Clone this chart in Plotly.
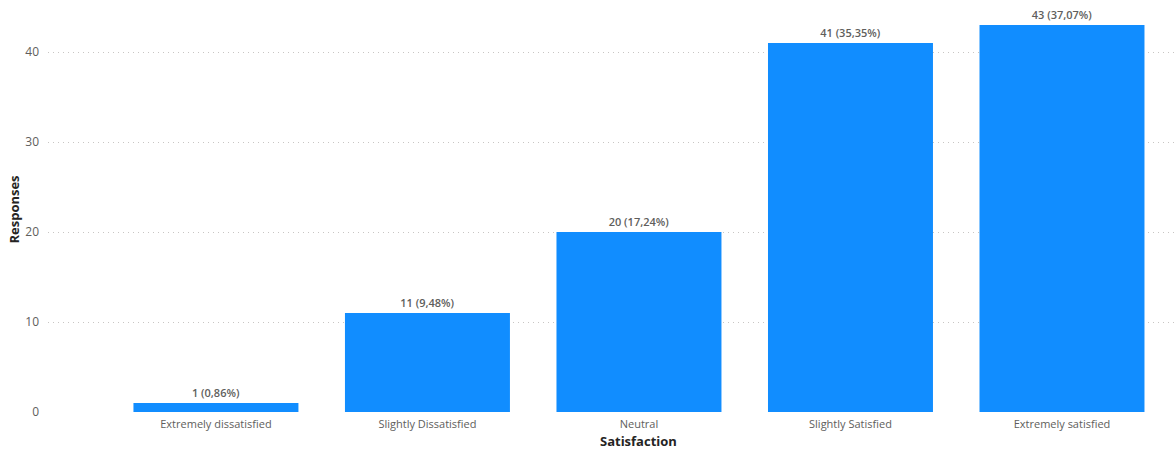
import plotly.graph_objects as go

categories = ["Extremely dissatisfied", "Slightly Dissatisfied", "Neutral",
              "Slightly Satisfied", "Extremely satisfied"]
responses = [1, 11, 20, 41, 43]
percent_labels = ["0,86%", "9,48%", "17,24%", "35,35%", "37,07%"]
y_ticks = [0, 10, 20, 30, 40]

labels = [f"{v} ({p})" for v, p in zip(responses, percent_labels)]
positions = list(range(len(categories)))

fig = go.Figure(
    go.Bar(
        x=positions,
        y=responses,
        text=labels,
        textposition="outside",
        cliponaxis=False,
        textfont=dict(family="Open Sans", size=11, color="#605E5C", weight=600),
        marker=dict(color="#118DFF", line=dict(width=0)),
        hoverinfo="skip",
    )
)

fig.update_layout(
    width=1176,
    height=454,
    margin=dict(l=48, r=0, t=7, b=42),
    paper_bgcolor="white",
    plot_bgcolor="white",
    bargap=0.22,
    showlegend=False,
    font=dict(family="Open Sans", color="#605E5C"),
)

fig.update_xaxes(
    tickmode="array",
    tickvals=positions,
    ticktext=categories,
    range=[-0.794, 4.539],
    showgrid=False,
    zeroline=False,
    showline=False,
    ticks="",
    ticklabelstandoff=4,
    tickfont=dict(family="Open Sans", size=11, color="#605E5C"),
)

# x-axis title centred under the category bands
fig.add_annotation(
    text="<b>Satisfaction</b>",
    x=(positions[0] + positions[-1]) / 2,
    xref="x",
    y=0,
    yref="paper",
    yshift=-29,
    yanchor="middle",
    showarrow=False,
    font=dict(family="Open Sans", size=13, color="#252423"),
)

fig.update_yaxes(
    range=[0, 45],
    tickmode="array",
    tickvals=y_ticks,
    showgrid=True,
    gridcolor="#C8C6C4",
    griddash="1px,4px",
    gridwidth=1,
    zeroline=False,
    showline=False,
    ticks="",
    ticklabelstandoff=8,
    tickfont=dict(family="Open Sans", size=12, color="#605E5C"),
    title=dict(text="<b>Responses</b>", font=dict(family="Open Sans", size=13, color="#252423"), standoff=2),
)

fig.write_html("out.html")
